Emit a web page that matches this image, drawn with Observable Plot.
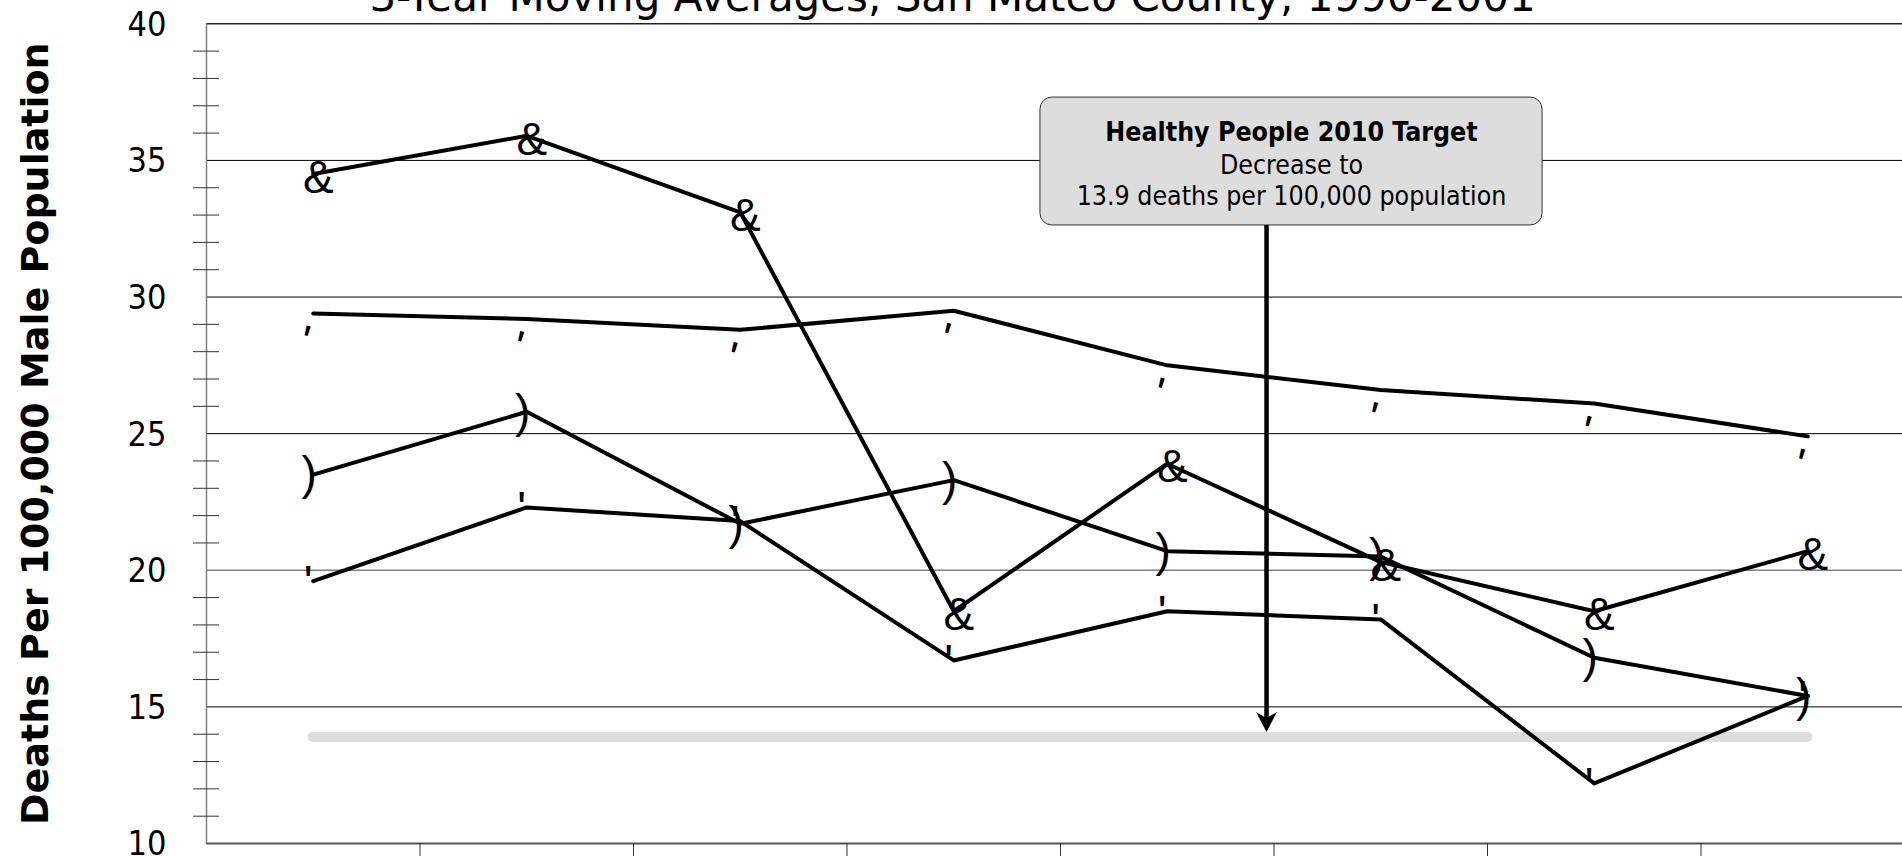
<!DOCTYPE html>
<html>
<head>
<meta charset="utf-8">
<script src="https://cdn.jsdelivr.net/npm/d3@7"></script>
<script src="https://cdn.jsdelivr.net/npm/@observablehq/plot@0.6"></script>
<style>
  html, body { margin: 0; padding: 0; overflow: hidden; background: #fff; width: 1902px; height: 856px; }
  #chart { position: absolute; left: 0; top: 0; }
</style>
</head>
<body>
<div id="chart"></div>
<script>
// ---- data ----
const titleText = "3-Year Moving Averages, San Mateo County, 1990-2001";
const yLabel = "Deaths Per 100,000 Male Population";
const periods = ["1992-1994", "1993-1995", "1994-1996", "1995-1997", "1996-1998", "1997-1999", "1998-2000", "1999-2001"];
const seriesAmp   = [34.5, 35.9, 33.1, 18.5, 23.9, 20.3, 18.5, 20.7];
const seriesTop   = [29.4, 29.2, 28.8, 29.5, 27.5, 26.6, 26.1, 24.9];
const seriesParen = [23.5, 25.8, 21.7, 23.3, 20.7, 20.5, 16.8, 15.4];
const seriesTick  = [19.6, 22.3, 21.8, 16.7, 18.5, 18.2, 12.2, 15.4];
const target = 13.9;
const yTicks = [10, 15, 20, 25, 30, 35, 40];
const noteTitle = "Healthy People 2010 Target";
const noteLines = ["Decrease to", "13.9 deaths per 100,000 population"];

// annotation box placement (data units)
const note = {x1: 3.406, x2: 5.758, yTop: 37.30, yBottom: 32.62, arrowX: 4.465,
              lineY: [36.02, 34.82, 33.69]};

// ---- derived tables ----
const seriesDefs = [
  {name: "A", values: seriesAmp, marker: "&"},
  {name: "B", values: seriesTop, marker: "'"},
  {name: "C", values: seriesParen, marker: ")"},
  {name: "D", values: seriesTick, marker: "'"}
];
const rows = seriesDefs.flatMap(s => s.values.map((v, i) => ({series: s.name, i, period: periods[i], value: v, marker: s.marker})));
const bySeries = name => rows.filter(r => r.series === name);

const xDomain = [-0.5, periods.length - 0.5];
const boundaries = d3.range(0.5, periods.length - 1, 1);
const yMinor = d3.range(11, 40).filter(v => v % 5 !== 0);
const cx = (note.x1 + note.x2) / 2;

const stealth = {
  draw(context, size) {
    const r = Math.sqrt(size / Math.PI);
    context.moveTo(0, 0);
    context.lineTo(-1.05 * r, -2 * r);
    context.lineTo(0, -1.4 * r);
    context.lineTo(1.05 * r, -2 * r);
    context.closePath();
  }
};

const condensed = "'DejaVu Sans Condensed', 'DejaVu Sans', sans-serif";
const markerFont = "'Liberation Sans', Arial, sans-serif";
const wide = "'DejaVu Sans', Verdana, sans-serif";

const chart = Plot.plot({
  width: 1920,
  height: 870,
  marginLeft: 206,
  marginRight: 6,
  marginTop: 23.3,
  marginBottom: 27,
  style: "max-width: none; overflow: visible; background: transparent;",
  x: {type: "linear", domain: xDomain, axis: null},
  y: {domain: [10, 40], axis: null},
  marks: [
    // gridlines
    Plot.ruleY([15, 25, 30, 35], {stroke: "#000", strokeWidth: 1}),
    Plot.ruleY([20], {stroke: "#808080", strokeWidth: 1.5}),
    Plot.ruleY([40], {stroke: "#222", strokeWidth: 1.5}),
    Plot.ruleY([10], {stroke: "#555", strokeWidth: 2}),
    // left axis line and minor ticks
    Plot.ruleX([xDomain[0]], {y1: 10, y2: 40, stroke: "#808080", strokeWidth: 1.5}),
    Plot.ruleY(yMinor, {y: d => d, x1: xDomain[0], x2: xDomain[0], insetLeft: -13, insetRight: -13, stroke: "#333", strokeWidth: 1}),
    Plot.axisY(yTicks, {tickSize: 0, tickPadding: 40, fontSize: 34, fontFamily: condensed, fill: "#000", dy: 1, label: null}),
    // category separator ticks
    Plot.axisX(boundaries, {tickSize: 20, tickFormat: () => "", stroke: "#333", label: null}),
    // target line
    Plot.ruleY([target], {x1: 0, x2: periods.length - 1, stroke: "#dddddd", strokeWidth: 10, strokeLinecap: "round"}),
    // series lines
    Plot.line(rows, {x: "i", y: "value", z: "series", stroke: "#000", strokeWidth: 4, strokeLinejoin: "round"}),
    // markers
    Plot.text(bySeries("A"), {x: "i", y: "value", text: "marker", fontSize: 46, fontFamily: markerFont, fill: "#000", dx: 5, dy: 4}),
    Plot.text(bySeries("C"), {x: "i", y: "value", text: "marker", fontSize: 46, fontFamily: markerFont, fill: "#000", dx: -4, dy: 0}),
    Plot.text(bySeries("D"), {x: "i", y: "value", text: "marker", fontSize: 46, fontFamily: markerFont, fill: "#000", dx: -5, dy: 2}),
    Plot.text(bySeries("B"), {x: "i", y: "value", text: "marker", fontSize: 46, fontFamily: markerFont, fill: "#000", rotate: 15, dx: -9, dy: 29}),
    // annotation
    Plot.rect([note], {x1: "x1", x2: "x2", y1: "yTop", y2: "yBottom", fill: "#dddddd", stroke: "#333", strokeWidth: 1, rx: 12}),
    Plot.text([noteTitle], {x: cx, y: note.lineY[0], text: d => d, fontSize: 26.5, fontWeight: "bold", fontFamily: condensed, fill: "#000"}),
    Plot.text(noteLines, {x: cx, y: (d, i) => note.lineY[i + 1], text: d => d, fontSize: 26.5, fontFamily: condensed, fill: "#000"}),
    Plot.ruleX([note], {x: "arrowX", y1: note.yBottom, y2: target, stroke: "#000", strokeWidth: 4.5, insetBottom: 15}),
    Plot.dot([{x: note.arrowX, y: target}], {x: "x", y: "y", symbol: stealth, r: 10, fill: "#000", stroke: "none", dy: -5}),
    // titles
    Plot.text([yLabel], {frameAnchor: "left", textAnchor: "middle", lineAnchor: "middle", rotate: -90, dx: -171, text: d => d, fontSize: 38, fontWeight: "bold", fontFamily: wide, fill: "#000"}),
    Plot.text([titleText], {frameAnchor: "top", textAnchor: "middle", lineAnchor: "middle", dx: -108, dy: -26.7, text: d => d, fontSize: 42, fontFamily: wide, fill: "#000"})
  ]
});
document.getElementById("chart").appendChild(chart);
</script>
</body>
</html>
